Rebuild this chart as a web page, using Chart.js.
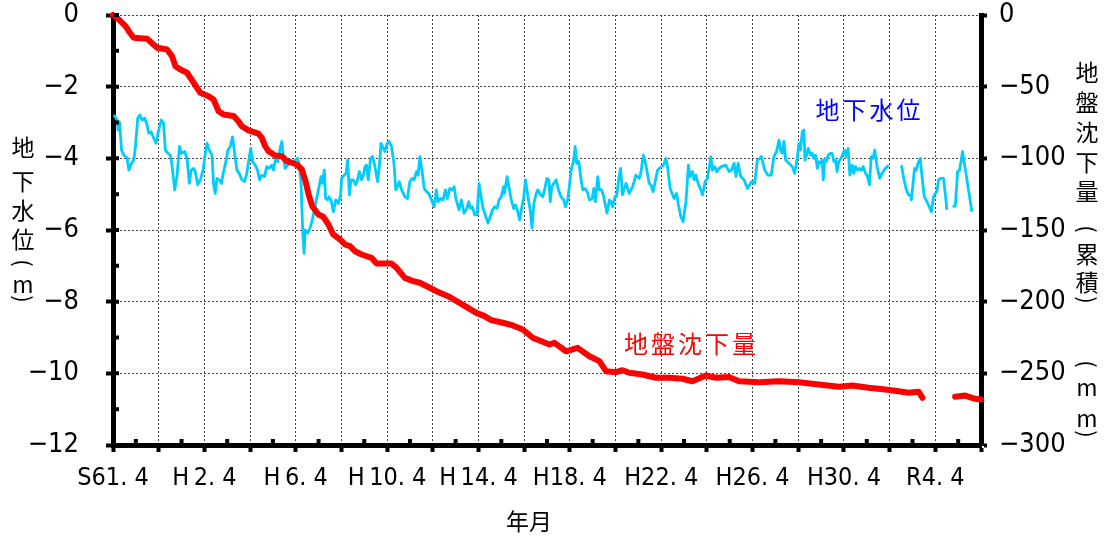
<!DOCTYPE html>
<html lang="ja">
<head>
<meta charset="utf-8">
<title>地下水位と地盤沈下量の経年変化</title>
<script src="https://cdn.jsdelivr.net/npm/chart.js@4.4.1/dist/chart.umd.min.js"></script>
<style>
  html, body { margin: 0; padding: 0; background: #fff; }
  canvas { display: block; }
</style>
</head>
<body>
<canvas id="chart" width="1110" height="540"></canvas>
<script>
/* ---------- データ (月 = S61.4 からの経過月数) ---------- */
const X_LABELS = ['S61. 4', 'H\u20092. 4', 'H\u20096. 4', 'H\u200910. 4', 'H\u200914. 4', 'H18. 4', 'H22. 4', 'H26. 4', 'H30. 4', 'R4. 4'];

// 地下水位 (m)
const gwMonth = [
  0.4, 2.2, 2.7, 3.4, 4.5, 5.7, 7.4, 8.3, 9.7, 10.9,
  11.8, 13.0, 14.1, 15.3, 16.7, 17.9, 18.8, 20.0, 21.4, 22.6,
  24.0, 25.4, 26.6, 27.5, 28.9, 30.1, 31.0, 32.4, 33.6, 34.9,
  35.9, 37.6, 38.9, 40.1, 41.1, 42.4, 43.2, 44.5, 45.9, 47.3,
  48.5, 49.4, 50.6, 52.0, 52.8, 53.7, 54.6, 55.8, 56.9, 58.1,
  59.3, 60.4, 61.6, 62.8, 63.9, 65.1, 66.3, 67.7, 69.1, 70.3,
  71.5, 72.4, 73.3, 74.7, 75.9, 77.0, 78.2, 79.6, 80.8, 82.0,
  83.4, 84.3, 85.5, 86.6, 87.8, 88.7, 89.5, 90.4, 91.8, 93.0,
  94.2, 95.6, 97.0, 97.7, 98.8, 99.7, 100.4, 100.9, 102.3, 103.5,
  104.7, 106.1, 107.9, 109.3, 110.0, 111.0, 111.7, 112.8, 113.5, 114.5,
  115.8, 117.0, 118.4, 119.6, 120.1, 121.5, 122.4, 123.3, 124.2, 125.0,
  126.2, 127.5, 128.5, 129.4, 130.6, 131.5, 132.4, 133.2, 134.1, 135.3,
  136.4, 137.6, 139.0, 139.9, 140.8, 141.6, 142.8, 144.1, 145.1, 146.3,
  147.6, 148.6, 149.5, 150.4, 151.6, 153.3, 154.7, 155.9, 157.2, 158.2,
  159.4, 160.3, 161.2, 162.4, 163.5, 164.7, 165.9, 167.3, 168.7, 169.9,
  170.8, 172.2, 173.4, 174.6, 175.7, 176.9, 178.1, 179.2, 180.1, 181.8,
  183.0, 184.4, 185.6, 186.9, 187.7, 188.8, 190.0, 191.2, 192.3, 193.2,
  194.4, 195.6, 197.0, 198.2, 199.3, 200.5, 201.7, 202.8, 204.0, 205.2,
  205.7, 207.0, 208.0, 209.2, 210.5, 211.5, 212.4, 213.6, 214.8, 215.7,
  216.7, 218.0, 219.2, 220.1, 221.1, 222.3, 223.2, 224.6, 225.8, 227.1,
  227.9, 229.0, 229.7, 230.5, 232.8, 234.0, 235.4, 236.7, 237.7, 238.9,
  240.7, 241.9, 242.8, 243.6, 244.7, 245.9, 246.8, 248.0, 249.1, 250.3,
  251.7, 252.6, 253.4, 254.7, 255.5, 256.7, 257.8, 259.5, 260.8, 261.6,
  262.5, 263.7, 264.6, 265.7, 266.7, 267.6, 269.5, 271.2, 273.0, 274.7,
  276.5, 277.4, 278.6, 279.6, 281.7, 282.6, 283.7, 285.2, 286.1, 288.2,
  289.2, 290.5, 291.3, 292.7, 294.8, 296.1, 296.9, 298.3, 299.5, 301.0,
  302.3, 303.2, 304.4, 305.3, 306.2, 307.1, 309.7, 311.1, 312.3, 314.1,
  314.9, 316.1, 317.2, 318.4, 319.6, 321.9, 323.7, 324.9, 326.3, 327.3,
  328.4, 329.8, 331.5, 333.3, 334.5, 335.4, 337.1, 338.5, 339.9, 340.6,
  342.4, 344.1, 345.8, 347.2, 348.6, 349.9, 350.7, 351.6, 352.5, 353.4,
  355.1, 356.8, 358.1, 359.5, 360.3, 361.2, 362.1, 363.0, 363.5, 364.4,
  365.2, 366.5, 367.3, 368.2, 369.1, 370.0, 370.8, 371.7, 372.6, 373.1,
  374.0, 374.8, 375.7, 376.9, 377.8, 378.7, 379.6, 380.4, 381.3, 382.5,
  383.6, 384.3, 385.2, 386.2, 387.1, 388.3, 389.2, 390.0, 391.3, 392.3,
  393.2, 394.1, 395.3, 396.2, 397.4, 398.3, 399.3, 400.2, 401.4, 402.8,
  404.0, 405.8, 407.5, 411.0, 414.2, 415.4, 416.8, 418.0, 418.9, 419.4,
  420.3, 421.1, 422.0, 422.9, 424.1, 425.0, 426.2, 427.6, 428.8, 429.9,
  431.1, 432.0, 432.8, 433.7, 434.9, 436.3, 437.2, 438.1, 439.6, 441.1,
  442.5, 443.7, 444.7, 445.6, 446.3, 446.8, 447.7, 448.9, 450.0, 451.2,
];
const gwLevel = [
  -2.79, -2.93, -3.21, -2.98, -3.77, -3.91, -4.00, -4.33, -4.14, -4.05,
  -3.67, -2.88, -2.79, -2.93, -2.88, -3.07, -3.30, -3.26, -3.44, -3.58,
  -3.21, -2.93, -3.02, -3.77, -3.86, -3.91, -4.19, -4.88, -4.51, -3.67,
  -3.86, -3.81, -4.00, -4.70, -4.33, -4.28, -4.37, -4.74, -4.60, -4.33,
  -3.86, -3.58, -3.77, -3.91, -4.70, -4.98, -4.56, -4.60, -4.70, -4.37,
  -4.09, -3.77, -3.67, -3.40, -3.86, -4.33, -4.42, -4.60, -4.65, -4.42,
  -4.00, -3.72, -4.09, -4.19, -4.33, -4.60, -4.47, -4.51, -4.23, -4.28,
  -4.19, -4.33, -4.00, -4.09, -3.72, -3.53, -3.95, -4.28, -4.19, -4.05,
  -4.09, -4.05, -4.00, -4.14, -4.70, -6.09, -6.65, -6.00, -6.09, -5.95,
  -5.72, -5.35, -4.88, -4.51, -4.70, -4.33, -5.12, -5.16, -5.07, -5.16,
  -5.49, -5.16, -5.26, -5.02, -4.56, -4.47, -4.42, -4.05, -5.02, -4.60,
  -4.60, -4.74, -4.60, -4.37, -4.60, -4.47, -4.23, -4.19, -4.60, -4.00,
  -3.95, -4.23, -4.65, -4.23, -3.58, -3.67, -3.81, -3.58, -3.53, -3.67,
  -4.14, -4.88, -4.79, -4.65, -4.88, -5.07, -5.12, -4.65, -4.56, -4.60,
  -4.37, -4.47, -3.95, -4.37, -4.84, -4.93, -4.98, -5.16, -5.35, -4.88,
  -5.21, -5.12, -5.16, -4.88, -5.12, -4.84, -4.88, -4.79, -5.12, -5.44,
  -5.16, -5.53, -5.44, -5.21, -5.40, -5.35, -5.58, -5.58, -4.70, -5.02,
  -5.40, -5.58, -5.81, -5.63, -5.44, -5.35, -5.40, -5.16, -5.07, -4.79,
  -4.98, -4.51, -4.79, -5.16, -5.40, -5.30, -5.44, -5.72, -5.35, -5.12,
  -4.60, -5.07, -5.44, -5.95, -5.26, -4.98, -4.88, -5.02, -5.07, -4.79,
  -4.56, -4.60, -5.21, -4.79, -4.60, -4.88, -5.07, -5.16, -5.35, -5.16,
  -4.33, -4.09, -3.67, -4.14, -4.09, -4.60, -4.88, -4.84, -4.93, -5.16,
  -5.12, -4.84, -5.21, -4.51, -4.88, -4.88, -5.07, -5.53, -5.16, -5.21,
  -5.35, -5.07, -5.07, -4.56, -4.28, -5.02, -4.70, -4.98, -4.79, -4.47,
  -4.56, -4.37, -3.91, -4.09, -4.70, -4.74, -4.93, -4.56, -4.33, -4.23,
  -4.19, -4.00, -4.23, -4.84, -5.12, -4.98, -5.26, -5.63, -5.77, -5.21,
  -4.19, -4.51, -4.37, -4.60, -4.47, -4.65, -5.02, -4.65, -4.56, -3.95,
  -4.33, -4.23, -4.37, -4.28, -4.23, -4.19, -4.37, -4.33, -4.14, -4.51,
  -4.14, -4.51, -4.60, -4.84, -4.74, -4.65, -4.70, -4.05, -4.00, -3.95,
  -4.33, -4.47, -4.47, -3.95, -3.81, -3.49, -3.77, -3.86, -3.53, -4.05,
  -4.14, -4.23, -4.42, -4.00, -3.58, -3.77, -3.26, -3.21, -4.05, -3.91,
  -3.72, -3.91, -3.86, -4.00, -3.91, -4.28, -4.09, -4.14, -4.05, -4.60,
  -4.00, -4.09, -3.91, -3.86, -3.86, -4.09, -4.05, -4.37, -4.09, -4.00,
  -3.86, -3.77, -3.95, -3.72, -4.47, -4.19, -4.42, -4.23, -4.33, -4.28,
  -4.33, -4.23, -4.42, -4.47, -4.74, -3.95, -4.00, -3.77, -4.23, -4.56,
  -4.42, -4.28, -4.19, null, -4.19, -4.56, -4.88, -5.02, -5.02, -5.16,
  -4.70, -4.28, -4.33, -4.14, -4.00, -4.51, -5.07, -5.21, -5.35, -5.49,
  -5.07, -4.98, -4.93, -4.60, -4.56, -4.56, -4.98, -5.44, null, -5.35,
  -5.33, -4.37, -4.33, -4.05, -3.81, -4.00, -4.28, -4.70, -5.07, -5.49,
];

// 地盤沈下量 累積 (mm)
const subMonth = [
  0, 3.0, 6.6, 8.3, 10.9, 17.9, 23.2, 28.4, 31.0, 32.8,
  35.4, 38.9, 45.9, 50.2, 52.8, 55.5, 58.1, 63.3, 65.9, 67.7,
  71.2, 76.4, 78.2, 79.9, 81.7, 85.2, 88.7, 91.3, 96.5, 99.2,
  100.9, 103.0, 104.7, 107.9, 110.5, 113.1, 115.7, 119.2, 121.9, 124.5,
  127.1, 130.6, 135.8, 138.5, 146.3, 149.0, 153.3, 157.7, 161.2, 166.4,
  169.9, 176.0, 182.1, 190.9, 195.2, 198.7, 204.8, 210.1, 215.3, 220.5,
  229.3, 231.9, 238.0, 244.1, 250.3, 255.5, 259.0, 264.3, 267.7, 271.2,
  278.2, 285.2, 292.2, 299.2, 304.4, 311.4, 316.7, 323.6, 328.9, 339.4,
  349.9, 360.4, 370.8, 381.3, 388.3, 397.0, 405.8, 412.7, 418.0, 423.2,
  425.3, 434.0, 442.4, 447.7, 452.9, 456.0,
];
const subAmount = [
  0, -3.1, -7.8, -11.3, -15.9, -16.6, -22.9, -24.1, -28.7, -35.7,
  -38.0, -40.3, -54.3, -56.7, -59.0, -67.1, -69.4, -70.4, -74.1, -77.6,
  -80.5, -82.8, -85.7, -91.5, -95.0, -98.0, -98.5, -102.0, -104.3, -107.8,
  -114.8, -126.4, -133.4, -139.2, -140.8, -146.0, -153.1, -156.6, -160.1, -161.3,
  -164.8, -167.1, -169.4, -173.4, -173.4, -176.4, -183.4, -185.7, -186.8, -190.3,
  -192.7, -196.2, -200.8, -207.8, -210.1, -212.9, -214.7, -216.6, -219.4, -225.2,
  -229.9, -228.7, -234.6, -232.2, -238.1, -241.5, -248.5, -249.2, -247.8, -249.6,
  -250.8, -253.1, -253.1, -253.8, -255.5, -251.5, -253.1, -252.6, -255.5, -256.2,
  -255.5, -256.2, -257.8, -259.4, -258.5, -260.1, -261.3, -262.5, -263.6, -262.8,
  -267.1, null, -266.4, -265.5, -267.8, -268.3,
];

/* ---------- 見た目 ---------- */
const NUM_FONT = '"DejaVu Sans Condensed", "DejaVu Sans", sans-serif';
const JP_FONT  = '"Noto Sans CJK JP", "Noto Sans", sans-serif';
const C_GW  = '#00ccff';
const C_SUB = '#ff0000';

const fmtNeg = v => (v < 0 ? '\u2212' + Math.abs(v) : String(v));
const toXY = (xs, ys) => xs.map((x, i) => ({ x, y: ys[i] }));

// 縦書き: 括弧は90度回転して描く
function drawVertical(ctx, chars, cx) {
  chars.forEach(([c, py]) => {
    if (c === '(' || c === ')') {
      ctx.save();
      ctx.font = '22px ' + JP_FONT;
      ctx.translate(cx, py);
      ctx.rotate(Math.PI / 2);
      ctx.fillText(c, 0, 0);
      ctx.restore();
    } else {
      ctx.fillText(c, cx, py);
    }
  });
}

/* ---------- 副目盛・縦書きタイトル・注記 ---------- */
const decoPlugin = {
  id: 'deco',
  afterDraw(chart) {
    const { ctx, chartArea: a, scales: { x, y } } = chart;
    ctx.save();
    ctx.strokeStyle = '#000';
    ctx.lineWidth = 4;
    ctx.beginPath();
    // 左軸: 内側の目盛
    for (let v = 0; v >= -12; v--) {
      const py = y.getPixelForValue(v);
      ctx.moveTo(a.left, py); ctx.lineTo(a.left + 6, py);
    }
    // 下軸: 1年ごとの上向き副目盛
    for (let m = 12; m < 456; m += 24) {
      const px = x.getPixelForValue(m);
      ctx.moveTo(px, a.bottom); ctx.lineTo(px, a.bottom - 6);
    }
    ctx.stroke();

    ctx.fillStyle = '#000';
    ctx.textAlign = 'center';
    ctx.textBaseline = 'middle';
    ctx.font = '23px ' + JP_FONT;
    drawVertical(ctx, [['地', 147], ['下', 181], ['水', 210], ['位', 239],
      ['(', 263], ['m', 284], [')', 299]], 23);
    ctx.font = '23px ' + JP_FONT;
    drawVertical(ctx, [['地', 72], ['盤', 102], ['沈', 132], ['下', 162], ['量', 191],
      ['(', 229], ['累', 254], ['積', 282], [')', 300],
      ['(', 364], ['m', 387], ['m', 418], [')', 434]], 1087);

    // x軸タイトル
    ctx.font = '23px ' + JP_FONT;
    ctx.fillText('年月', 529, 521);

    // 系列名
    const label = (text, color, mx, my) => {
      ctx.fillStyle = color;
      ctx.font = '24px ' + JP_FONT;
      const px = x.getPixelForValue(mx), py = y.getPixelForValue(my);
      [...text].forEach((c, i) => ctx.fillText(c, px + i * 27, py));
    };
    label('地下水位', '#0000ff', 375.4, -2.65);
    label('地盤沈下量', '#ff0000', 274.8, -9.18);
    ctx.restore();
  },
};

const tickGrid = {
  color: '#444',
  lineWidth: 1,
  tickColor: '#000',
  tickWidth: 4,
  tickLength: 7,
  tickBorderDash: [],
};

new Chart(document.getElementById('chart'), {
  type: 'line',
  data: {
    datasets: [
      {
        label: '地盤沈下量',
        data: toXY(subMonth, subAmount),
        yAxisID: 'y2',
        borderColor: C_SUB,
        borderWidth: 6,
        borderCapStyle: 'round',
        borderJoinStyle: 'round',
        pointRadius: 0,
        spanGaps: false,
        order: 1,
        clip: 8,
      },
      {
        label: '地下水位',
        data: toXY(gwMonth, gwLevel),
        yAxisID: 'y',
        borderColor: C_GW,
        borderWidth: 2.8,
        borderJoinStyle: 'round',
        pointRadius: 0,
        spanGaps: false,
        order: 2,
      },
    ],
  },
  options: {
    responsive: false,
    devicePixelRatio: 1,
    animation: false,
    events: [],
    layout: { padding: { top: 15, left: 0, right: 0, bottom: 0 } },
    plugins: { legend: { display: false }, tooltip: { enabled: false } },
    scales: {
      x: {
        type: 'linear',
        min: 0, max: 456,
        afterFit: s => { s.height = 95; s.paddingLeft = 0; s.paddingRight = 0; },
        ticks: {
          stepSize: 24, autoSkip: false, maxRotation: 0, padding: 11,
          color: '#000', font: { family: NUM_FONT, size: 25 },
          callback: v => (v % 48 === 0 ? X_LABELS[v / 48] : ''),
        },
        grid: tickGrid,
        border: { color: '#000', width: 5, dash: [2, 2] },
      },
      y: {
        position: 'left',
        min: -12, max: 0,
        afterFit: s => { s.width = 113; s.paddingTop = 0; s.paddingBottom = 0; },
        ticks: {
          stepSize: 2, padding: 27,
          color: '#000', font: { family: NUM_FONT, size: 27 },
          callback: fmtNeg,
        },
        grid: tickGrid,
        border: { color: '#000', width: 5, dash: [2, 2] },
      },
      y2: {
        position: 'right',
        min: -300, max: 0,
        afterFit: s => { s.width = 129; s.paddingTop = 0; s.paddingBottom = 0; },
        ticks: {
          stepSize: 50, padding: 12,
          color: '#000', font: { family: NUM_FONT, size: 27 },
          callback: fmtNeg,
        },
        grid: { ...tickGrid, drawOnChartArea: false, tickLength: 6 },
        border: { color: '#000', width: 5 },
      },
    },
  },
  plugins: [decoPlugin],
});
</script>
</body>
</html>
